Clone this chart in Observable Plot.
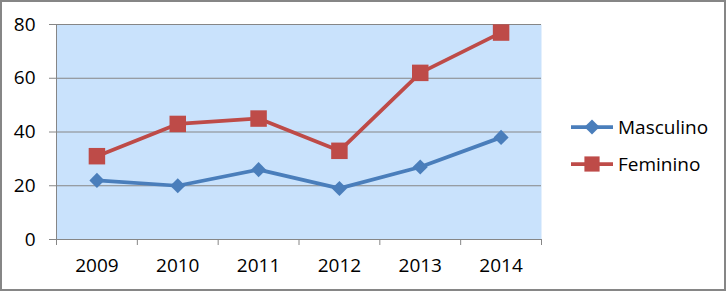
<!DOCTYPE html>
<html>
<head>
<meta charset="utf-8">
<script src="https://cdn.jsdelivr.net/npm/d3@7"></script>
<script src="https://cdn.jsdelivr.net/npm/@observablehq/plot@0.6"></script>
<style>
  html, body { margin: 0; padding: 0; background: #fff; }
  #wrap { position: relative; width: 726px; height: 291px; overflow: hidden; }
  #border { position: absolute; left: 0; top: 0; width: 726px; height: 291px; box-sizing: border-box; border: 2px solid #868686; pointer-events: none; }
  #legend { position: absolute; left: 0; top: 0; }
</style>
</head>
<body>
<div id="wrap"><div id="chart"></div><svg id="legend" width="726" height="291"></svg><div id="border"></div></div>
<script>
const years = [2009, 2010, 2011, 2012, 2013, 2014];
const masculino = [22, 20, 26, 19, 27, 38];
const feminino = [31, 43, 45, 33, 62, 77];
const yTicks = [0, 20, 40, 60, 80];
const seriesNames = ["Masculino", "Feminino"];
const seriesColors = ["#4A7EBB", "#BE4B48"];

const FONT = "'Open Sans', 'Liberation Sans', sans-serif";
const FS = 19;
const GRAY = "#868686";
const BG = "#C9E2FC";

const mascData = years.map((y, i) => ({year: y, value: masculino[i]}));
const femData = years.map((y, i) => ({year: y, value: feminino[i]}));
const boundaries = [years[0] - 0.5, ...years.map(y => y + 0.5)];

const chart = Plot.plot({
  width: 726,
  height: 291,
  marginLeft: 56,
  marginRight: 185,
  marginTop: 24,
  marginBottom: 52,
  style: {fontFamily: FONT, fontSize: FS + "px", color: "black", background: "transparent"},
  x: {type: "linear", domain: [boundaries[0], boundaries[boundaries.length - 1]], label: null},
  y: {domain: [0, 80], label: null},
  marks: [
    Plot.frame({fill: BG, stroke: null}),
    Plot.gridY(yTicks, {stroke: GRAY, strokeOpacity: 1, strokeWidth: 1}),
    Plot.ruleX([boundaries[0]], {stroke: GRAY, strokeWidth: 1}),
    Plot.axisY(yTicks, {label: null, tickSize: 7, tickPadding: 14, stroke: GRAY, strokeOpacity: 1, fill: "black", fontSize: FS, tickFormat: d => String(d)}),
    Plot.axisX(boundaries, {label: null, tickSize: 6, stroke: GRAY, strokeOpacity: 1, tickFormat: () => ""}),
    Plot.axisX(years, {label: null, tickSize: 0, tickPadding: 19, fill: "black", fontSize: FS, tickFormat: d => String(d)}),
    Plot.line(mascData, {x: "year", y: "value", stroke: seriesColors[0], strokeWidth: 3.75}),
    Plot.line(femData, {x: "year", y: "value", stroke: seriesColors[1], strokeWidth: 3.75}),
    Plot.dot(mascData, {x: "year", y: "value", symbol: "diamond2", r: 6.8, fill: seriesColors[0], stroke: null}),
    Plot.dot(femData, {x: "year", y: "value", symbol: "square", r: 9.3, fill: seriesColors[1], stroke: null})
  ]
});
document.getElementById("chart").appendChild(chart);

// Legend (to the right of the plot area)
const lg = d3.select("#legend");
const symbols = [d3.symbolDiamond2, d3.symbolSquare];
const sizes = [Math.PI * 6.8 * 6.8, Math.PI * 9.3 * 9.3];
seriesNames.forEach((name, i) => {
  const cy = 127 + i * 37;
  const g = lg.append("g");
  g.append("line").attr("x1", 571).attr("x2", 613).attr("y1", cy).attr("y2", cy)
    .attr("stroke", seriesColors[i]).attr("stroke-width", 3.75);
  g.append("path").attr("transform", `translate(592,${cy})`)
    .attr("d", d3.symbol(symbols[i], sizes[i] * (i === 0 ? 1 : 0.85))())
    .attr("fill", seriesColors[i]);
  g.append("text").attr("x", 618).attr("y", cy).attr("dy", "0.35em")
    .attr("font-family", FONT).attr("font-size", FS).attr("fill", "black").text(name);
});
</script>
</body>
</html>
